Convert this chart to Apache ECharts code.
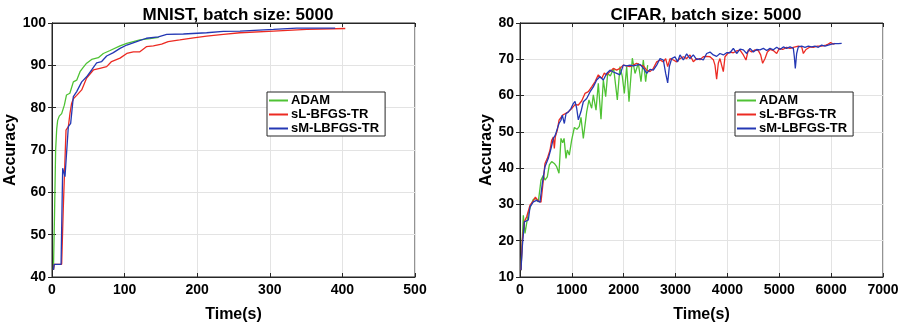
<!DOCTYPE html>
<html>
<head>
<meta charset="utf-8">
<script src="https://cdn.jsdelivr.net/npm/echarts@6/dist/echarts.min.js"></script>
<style>html,body{margin:0;padding:0;background:#fff;}#c{width:902px;height:329px;}</style>
</head>
<body>
<div id="c"></div>
<script>
// ---- Data (time in s, accuracy in %) ----
const seriesNames = ['ADAM', 'sL-BFGS-TR', 'sM-LBFGS-TR'];
const titles = ['MNIST, batch size: 5000', 'CIFAR, batch size: 5000'];

const mnistAdam = [[2,41.7],[3.5,55],[5,70],[6.5,75],[7.8,77],[10,78],[13.3,78.6],[17,80.6],[20,83],[24.6,83.4],[29.4,86.1],[34,86.5],[38.6,88.5],[43,89.5],[47.7,90.5],[54.6,91.4],[63.8,91.8],[70.7,92.8],[80,93.5],[93.7,94.6],[103,95.2],[121,96],[135,96.3],[147,96.6]];
const mnistSL = [[2,41.7],[3,43],[13.3,43],[15.6,56.6],[19.3,74.7],[22.5,75.5],[24.8,78.7],[27,81],[29.4,82.1],[34,82.9],[40.9,84.2],[47.7,87],[57,88.9],[66,89.3],[75.3,89.7],[82,90.9],[93.7,91.7],[103,92.8],[112,93.2],[121,93.2],[130,94.4],[139.6,94.6],[151,95],[160,95.6],[176,96],[195,96.5],[213,96.9],[236,97.3],[259,97.7],[305,98.1],[351,98.5],[404,98.7]];
const mnistSM = [[2,41.7],[3,43],[12.5,43],[14.7,65.7],[17.9,63.7],[20,63.7],[22.5,75.5],[25.7,76.3],[29.4,82.6],[34,83.8],[40.9,86.1],[47.7,87.3],[54.6,88.9],[61.5,90.6],[68.4,90.9],[75.3,92.2],[84.5,93],[93.7,94],[103,94.8],[116.6,95.6],[130,96.4],[146.5,96.7],[158,97.3],[181,97.4],[213,97.7],[236,98],[259,98.1],[305,98.5],[337,98.8],[390,98.8]];

const cifarAdam = [[19,11.9],[64,27],[96,22],[161,27.6],[212,29.8],[257,31.4],[296,31.6],[353,30.7],[405,36.7],[450,38],[482,36.7],[527,37.6],[566,40.9],[611,41.8],[662,41.3],[707,40.4],[752,38.6],[790,48.2],[823,47],[850,48.2],[887,42.7],[913,45],[951,43.6],[996,47.7],[1048,51.2],[1099,50.7],[1144,51.5],[1176,54],[1221,48.2],[1286,55.5],[1330,58.8],[1382,56.5],[1414,60.2],[1466,56],[1510,63.4],[1562,53.5],[1607,64.3],[1652,59.7],[1691,66.1],[1742,65.4],[1806,67.5],[1877,58.8],[1928,68],[1974,65.2],[2012,60.6],[2057,68],[2102,58.3],[2166,70.3],[2218,66.1],[2282,68.9],[2333,63.8],[2378,69.8],[2423,63.8],[2462,68.4]];
const cifarSL = [[19,11.9],[45,20.2],[84,25.2],[129,26.6],[193,29.8],[257,31],[296,32],[353,31],[405,30.6],[450,36.7],[482,41.3],[527,42.7],[579,45],[611,47.7],[643,48.6],[662,45.4],[681,48.6],[720,50.5],[752,53.2],[790,53.7],[823,54.6],[868,55],[932,55.5],[996,56.4],[1061,57.5],[1125,57.4],[1189,58.5],[1253,60.6],[1318,61.1],[1382,62.4],[1446,63.8],[1510,65.7],[1575,64.7],[1626,66.2],[1671,65.7],[1735,66.6],[1800,67.5],[1864,67],[1928,67.5],[1992,68.4],[2057,68.2],[2121,68],[2185,68.4],[2250,68.9],[2314,68.4],[2378,68.2],[2443,67],[2507,66.6],[2571,67.5],[2636,69.3],[2700,69.8],[2764,69.3],[2809,70.2],[2848,68],[2893,70.2],[2957,69.8],[3021,69.3],[3085,70.2],[3150,70.7],[3214,70.2],[3278,71.2],[3342,69.3],[3407,70.2],[3471,69.9],[3535,70.7],[3599,70.8],[3664,70.7],[3728,69.9],[3760,68.4],[3792,64.5],[3824,68.9],[3856,70.2],[3888,68.4],[3921,66.6],[3953,70.7],[4005,71.6],[4050,72],[4114,71.8],[4178,72.3],[4243,72.5],[4307,71.2],[4358,69.8],[4403,72.6],[4468,72],[4532,72.6],[4596,72.4],[4641,71.2],[4679,68.9],[4725,70.2],[4770,72],[4821,72.7],[4885,72.4],[4950,71.6],[5001,73],[5065,72.7],[5142,73.3],[5207,73],[5271,73.3],[5367,73.6],[5432,73.4],[5464,71.6],[5515,72.7],[5592,73.4],[5656,73.3],[5733,73.6],[5817,73.6],[5900,73.9],[5945,74.2],[5990,74.6],[6041,74.2],[6075,74.4]];
const cifarSM = [[19,11.9],[45,18.4],[84,25.2],[109,25.7],[161,25.7],[193,29.3],[257,30.7],[321,31.1],[385,30.6],[431,35.8],[482,40.4],[546,42.7],[598,45.4],[643,48.2],[681,49.1],[720,50.9],[752,52.3],[790,53.2],[816,54.6],[855,52.3],[887,55],[932,55.5],[983,56.4],[1028,57.8],[1061,58.4],[1093,56.5],[1125,53.3],[1176,55.6],[1221,58.3],[1286,59.2],[1350,61],[1414,62.4],[1478,64.3],[1542,65.2],[1607,64.3],[1671,66.1],[1735,67],[1800,66.5],[1864,66.1],[1928,65.7],[1992,68.4],[2057,68.2],[2121,68.4],[2185,68.2],[2250,68.4],[2314,68.6],[2346,68.9],[2398,67.2],[2443,66.1],[2507,67.2],[2571,67],[2636,68.4],[2700,70.2],[2764,69.8],[2809,66.1],[2848,63.5],[2880,68],[2925,70.2],[2989,70.7],[3040,69.3],[3085,71.2],[3150,69.8],[3214,71.5],[3278,70.2],[3342,71.2],[3407,69.9],[3471,70.2],[3535,69.8],[3599,71.6],[3664,72],[3728,71.2],[3792,70.8],[3856,71.6],[3921,71.2],[3985,71.8],[4050,71.8],[4114,73],[4178,71.6],[4243,72.8],[4307,72.6],[4371,71.6],[4435,73],[4500,72],[4564,72.7],[4628,72.6],[4693,73],[4757,72.4],[4821,73],[4885,72.6],[4950,73.3],[5014,72.7],[5078,73.4],[5142,73],[5207,73.4],[5271,73],[5290,70.7],[5309,67.5],[5335,71.6],[5367,73.4],[5432,73.6],[5496,73.3],[5560,73.6],[5624,73.4],[5689,73.6],[5753,73.3],[5817,73.9],[5881,73.6],[5945,73.9],[6010,74.2],[6074,74.3],[6138,74.3],[6203,74.4]];

// ---- Styling ----
const colors = ['#4fc234', '#ec2a22', '#2438b4'];
const FONT = '"Liberation Sans", Arial, Helvetica, sans-serif';
const axisColor = '#262626';
const gridColor = '#e3e3e3';

const grids = [
  {left: 52, right: 487, top: 23, bottom: 52, show: true, borderColor: axisColor, borderWidth: 1, backgroundColor: '#fff'},
  {left: 520, right: 19, top: 23, bottom: 52, show: true, borderColor: axisColor, borderWidth: 1, backgroundColor: '#fff'}
];
const xRanges = [[0, 500, 100], [0, 7000, 1000]];
const yRanges = [[40, 100, 10], [10, 80, 10]];

const xAxes = [], yAxes = [];
for (let g = 0; g < 2; g++) {
  xAxes.push({
    gridIndex: g, type: 'value', min: xRanges[g][0], max: xRanges[g][1], interval: xRanges[g][2],
    name: 'Time(s)', nameLocation: 'middle', nameGap: 30,
    nameTextStyle: {fontFamily: FONT, fontWeight: 'bold', fontSize: 16, color: '#000'},
    axisLine: {lineStyle: {color: axisColor, width: 1}},
    axisTick: {inside: true, length: 4, lineStyle: {color: axisColor}},
    axisLabel: {fontFamily: FONT, fontWeight: 'bold', fontSize: 14, color: '#000', margin: 6,
      formatter: function (v) { return String(v); }},
    splitLine: {show: true, lineStyle: {color: gridColor, width: 1}}
  });
  xAxes.push({
    gridIndex: g, type: 'value', position: 'top', min: xRanges[g][0], max: xRanges[g][1], interval: xRanges[g][2],
    axisLine: {show: true, lineStyle: {color: axisColor}},
    axisTick: {inside: true, length: 4, lineStyle: {color: axisColor}},
    axisLabel: {show: false}, splitLine: {show: false}
  });
  yAxes.push({
    gridIndex: g, type: 'value', min: yRanges[g][0], max: yRanges[g][1], interval: yRanges[g][2],
    name: 'Accuracy', nameLocation: 'middle', nameGap: g === 0 ? 28 : 22,
    nameTextStyle: {fontFamily: FONT, fontWeight: 'bold', fontSize: 16, color: '#000'},
    axisLine: {show: true, lineStyle: {color: axisColor, width: 1}},
    axisTick: {show: true, inside: true, length: 4, lineStyle: {color: axisColor}},
    axisLabel: {fontFamily: FONT, fontWeight: 'bold', fontSize: 14, color: '#000', margin: 6,
      formatter: function (v) { return String(v); }},
    splitLine: {show: true, lineStyle: {color: gridColor, width: 1}}
  });
  yAxes.push({
    gridIndex: g, type: 'value', position: 'right', min: yRanges[g][0], max: yRanges[g][1], interval: yRanges[g][2],
    axisLine: {show: true, lineStyle: {color: axisColor}},
    axisTick: {show: true, inside: true, length: 4, lineStyle: {color: axisColor}},
    axisLabel: {show: false}, splitLine: {show: false}
  });
}

const dataSets = [[mnistAdam, mnistSL, mnistSM], [cifarAdam, cifarSL, cifarSM]];
const series = [];
for (let g = 0; g < 2; g++) {
  for (let i = 0; i < 3; i++) {
    series.push({
      name: seriesNames[i], type: 'line', xAxisIndex: g * 2, yAxisIndex: g * 2,
      data: dataSets[g][i], showSymbol: false, symbol: 'none', smooth: false,
      lineStyle: {color: colors[i], width: 1.3}, itemStyle: {color: colors[i]},
      z: 3 + i, animation: false
    });
  }
}

const legendCommon = {
  orient: 'vertical', top: 92, data: seriesNames, icon: 'rect', itemWidth: 19, itemHeight: 2,
  itemGap: 1, padding: [2, 6, 1, 2], borderColor: axisColor, borderWidth: 1, backgroundColor: '#fff',
  textStyle: {fontFamily: FONT, fontWeight: 'bold', fontSize: 13, color: '#000', padding: [0,0,0,-2]},
  selectedMode: false
};

const titleStyle = {fontFamily: FONT, fontWeight: 'bold', fontSize: 17, color: '#000'};
const option = {
  animation: false,
  backgroundColor: '#fff',
  title: [
    {text: titles[0], left: 233, top: 2, textAlign: 'center', textStyle: titleStyle},
    {text: titles[1], left: 701, top: 2, textAlign: 'center', textStyle: titleStyle}
  ],
  legend: [
    Object.assign({}, legendCommon, {left: 267}),
    Object.assign({}, legendCommon, {left: 735})
  ],
  grid: grids,
  xAxis: xAxes,
  yAxis: yAxes,
  series: series
};

const chart = echarts.init(document.getElementById('c'), null, {renderer: 'canvas'});
chart.setOption(option);
</script>
</body>
</html>
